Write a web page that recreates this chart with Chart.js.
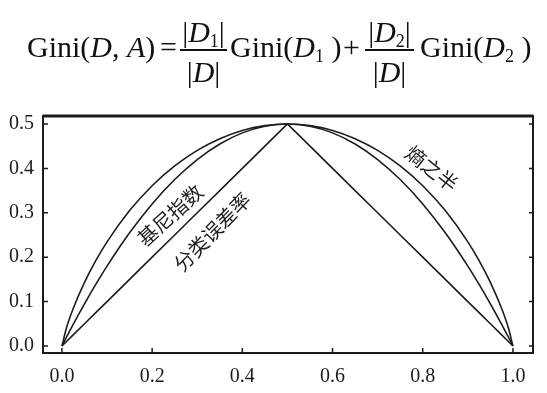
<!DOCTYPE html>
<html>
<head>
<meta charset="utf-8">
<script src="https://cdn.jsdelivr.net/npm/chart.js@4/dist/chart.umd.min.js"></script>
<style>
    body { margin: 0; background: #fff; }
    #wrap { position: relative; width: 547px; height: 393px; }
    #chart { position: absolute; left: 0; top: 0; }
    .f {
        position: absolute; font-family: "Liberation Serif", "Times New Roman", serif;
        font-size: 30px; line-height: 30px; color: #111; white-space: nowrap;
    }
    .f sub { font-size: 18px; vertical-align: -5px; line-height: 0; }
    .c { text-align: center; }
    .bar { position: absolute; height: 2px; background: #111; }
</style>
</head>
<body>
<div id="wrap">
    <canvas id="chart" width="547" height="393"></canvas>
    <div class="f" style="left:27px;top:32px">Gini(<i>D</i>, <i>A</i>)</div>
    <div class="f" style="left:160px;top:32px">=</div>
    <div class="f c" style="left:180px;width:47px;top:17px">|<i>D</i><sub>1</sub>|</div>
    <div class="bar" style="left:180px;width:47px;top:49px"></div>
    <div class="f c" style="left:180px;width:47px;top:57px">|<i>D</i>|</div>
    <div class="f" style="left:230px;top:32px">Gini(<i>D</i><sub>1</sub> )</div>
    <div class="f" style="left:343px;top:32px">+</div>
    <div class="f c" style="left:365px;width:49px;top:17px">|<i>D</i><sub>2</sub>|</div>
    <div class="bar" style="left:365px;width:49px;top:49px"></div>
    <div class="f c" style="left:365px;width:49px;top:57px">|<i>D</i>|</div>
    <div class="f" style="left:420px;top:32px">Gini(<i>D</i><sub>2</sub> )</div>
</div>
<script>
const pValues = [0, 0.01, 0.025, 0.05, 0.075, 0.1, 0.15, 0.2, 0.25, 0.3, 0.35, 0.4, 0.45, 0.5,
    0.55, 0.6, 0.65, 0.7, 0.75, 0.8, 0.85, 0.9, 0.925, 0.95, 0.975, 0.99, 1];
const entropyHalf = [0, 0.0404, 0.0843, 0.1432, 0.1922, 0.2345, 0.3049, 0.3610, 0.4056, 0.4406, 0.4670, 0.4855, 0.4964, 0.5,
    0.4964, 0.4855, 0.4670, 0.4406, 0.4056, 0.3610, 0.3049, 0.2345, 0.1922, 0.1432, 0.0843, 0.0404, 0];
const giniIndex = [0, 0.0198, 0.0488, 0.095, 0.1388, 0.18, 0.255, 0.32, 0.375, 0.42, 0.455, 0.48, 0.495, 0.5,
    0.495, 0.48, 0.455, 0.42, 0.375, 0.32, 0.255, 0.18, 0.1388, 0.095, 0.0488, 0.0198, 0];
const classError = [0, 0.01, 0.025, 0.05, 0.075, 0.1, 0.15, 0.2, 0.25, 0.3, 0.35, 0.4, 0.45, 0.5,
    0.45, 0.4, 0.35, 0.3, 0.25, 0.2, 0.15, 0.1, 0.075, 0.05, 0.025, 0.01, 0];
const xTicks = [0, 0.2, 0.4, 0.6, 0.8, 1.0];
const yTicks = [0, 0.1, 0.2, 0.3, 0.4, 0.5];

// curve labels: text, x, y (data units), angle in degrees
const curveLabels = [
    ["基尼指数", 0.24, 0.295, -42],
    ["分类误差率", 0.333, 0.257, -46],
    ["熵之半", 0.82, 0.40, 38],
];

const INK = "#1c1c1c";
const toPoints = (ys) => pValues.map((p, i) => ({ x: p, y: ys[i] }));

const framePlugin = {
    id: "frame",
    afterDatasetsDraw(chart) {
        const { ctx, chartArea: a, scales: { x, y } } = chart;
        ctx.save();
        ctx.strokeStyle = INK;
        ctx.lineWidth = 2;
        ctx.strokeRect(a.left, a.top, a.right - a.left, a.bottom - a.top);
        ctx.lineWidth = 3;
        ctx.beginPath();
        ctx.moveTo(a.left, a.top);
        ctx.lineTo(a.right, a.top);
        ctx.stroke();
        // inward ticks
        ctx.lineWidth = 1.5;
        ctx.beginPath();
        xTicks.forEach((v) => {
            const px = x.getPixelForValue(v);
            ctx.moveTo(px, a.bottom);
            ctx.lineTo(px, a.bottom - 5);
        });
        yTicks.forEach((v) => {
            const py = y.getPixelForValue(v);
            ctx.moveTo(a.left, py);
            ctx.lineTo(a.left + 5, py);
            ctx.moveTo(a.right, py);
            ctx.lineTo(a.right - 4, py);
        });
        ctx.stroke();
        // curve labels
        ctx.fillStyle = INK;
        ctx.font = '20px "Noto Sans CJK SC"';
        ctx.textAlign = "center";
        ctx.textBaseline = "middle";
        curveLabels.forEach(([text, vx, vy, ang]) => {
            ctx.save();
            ctx.translate(x.getPixelForValue(vx), y.getPixelForValue(vy));
            ctx.rotate(ang * Math.PI / 180);
            ctx.fillText(text, 0, 0);
            ctx.restore();
        });
        ctx.restore();
    }
};

const lineStyle = { borderColor: INK, borderWidth: 1.6, pointRadius: 0, fill: false };

new Chart(document.getElementById("chart"), {
    type: "line",
    data: {
        datasets: [
            { label: "熵之半", data: toPoints(entropyHalf), cubicInterpolationMode: "monotone", ...lineStyle },
            { label: "基尼指数", data: toPoints(giniIndex), cubicInterpolationMode: "monotone", ...lineStyle },
            { label: "分类误差率", data: toPoints(classError), tension: 0, ...lineStyle },
        ],
    },
    options: {
        responsive: false,
        animation: false,
        layout: { padding: { top: 116, right: 14, left: 0, bottom: 0 } },
        plugins: { legend: { display: false }, tooltip: { enabled: false } },
        scales: {
            x: {
                type: "linear",
                min: -0.042,
                max: 1.0445,
                grid: { display: false, drawTicks: false },
                border: { display: false },
                afterBuildTicks: (s) => { s.ticks = xTicks.map((v) => ({ value: v })); },
                afterFit: (s) => { s.height = 40; },
                ticks: {
                    padding: 12,
                    color: INK,
                    font: { family: '"Liberation Serif"', size: 20 },
                    callback: (v) => Number(v).toFixed(1),
                },
            },
            y: {
                min: -0.0158,
                max: 0.518,
                grid: { display: false, drawTicks: false },
                border: { display: false },
                afterBuildTicks: (s) => { s.ticks = yTicks.map((v) => ({ value: v })); },
                afterFit: (s) => { s.width = 43; },
                ticks: {
                    padding: 9,
                    color: INK,
                    font: { family: '"Liberation Serif"', size: 20 },
                    callback: (v) => Number(v).toFixed(1),
                },
            },
        },
    },
    plugins: [framePlugin],
});
</script>
</body>
</html>
